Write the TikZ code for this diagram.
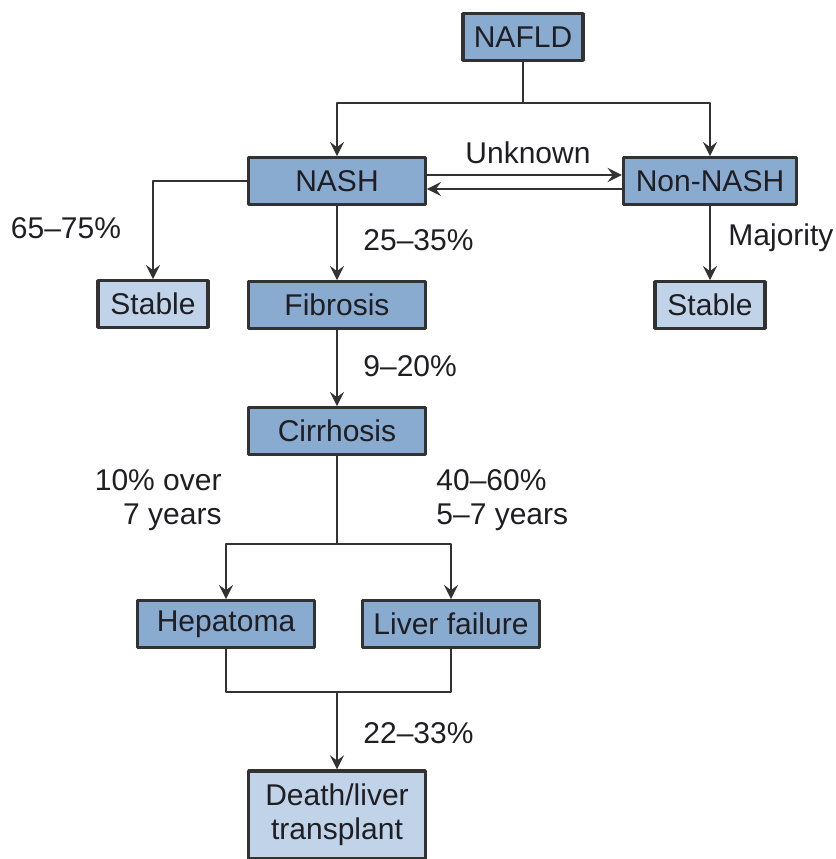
\documentclass[tikz,border=0pt]{standalone}
\usepackage{fontspec}
\setmainfont{Liberation Sans}
\usetikzlibrary{positioning}
\definecolor{boxdark}{RGB}{138,171,208}
\definecolor{boxlight}{RGB}{192,211,232}
\definecolor{lineclr}{RGB}{50,50,50}
\definecolor{txtclr}{RGB}{30,30,35}
\tikzset{
  stage/.style={draw=lineclr, fill=boxdark, line width=0.95pt, inner sep=0pt,
    minimum width=53pt, minimum height=14pt, text=txtclr},
  outcome/.style={stage, fill=boxlight},
  rate/.style={text=txtclr, inner sep=0pt}
}
\begin{document}
\begin{tikzpicture}[x=0.3pt,y=-0.3pt,>=stealth, font=\fontsize{9}{10.2}\selectfont, line join=round, line width=0.85pt]
			\useasboundingbox (0,0) rectangle (835,859);
			% boxes
			\node[stage, minimum width=36pt] (nafld) at (523,37) {NAFLD};
			\node[stage] (nash) at (337,181) {NASH};
			\node[stage, minimum width=52pt] (nonnash) at (710,181) {Non-NASH};
			\node[outcome, minimum width=33pt] (stableL) at (153,304) {Stable};
			\node[stage] (fibrosis) at (337,305) {Fibrosis};
			\node[outcome, minimum width=33pt] (stableR) at (710,305) {Stable};
			\node[stage] (cirrhosis) at (337,431) {Cirrhosis};
			\node[stage] (hepatoma) at (226,624) {Hepatoma};
			\node[stage] (liverfail) at (451,624) {Liver failure};
			\node[outcome, minimum height=26.4pt, align=center] (death) at (337,815) {Death/liver\\transplant};
			% labels
			\node[rate] (unknown) at (528,153) {Unknown};
			\node[rate] (pstable) at (66,228) {65--75\%};
			\node[rate, anchor=west] (pfib) at (362,240) {25--35\%};
			\node[rate, anchor=west] (pmaj) at (727,238) {Majority};
			\node[rate, anchor=west] (pcirr) at (362,366) {9--20\%};
			\node[rate, anchor=east, align=right] (phep) at (223,500) {10\% over\\7 years};
			\node[rate, anchor=west, align=left] (pfail) at (435,500) {40--60\%\\5--7 years};
			\node[rate, anchor=west] (pdeath) at (362,733) {22--33\%};
			% connectors
			\coordinate (split1) at (523,103);
			\coordinate (split2) at (337,544);
			\coordinate (merge) at (337,692);
			\draw[lineclr] (nafld) -- (split1);
			\draw[lineclr,->] (split1) -| (nash);
			\draw[lineclr,->] (split1) -| (nonnash);
			\draw[lineclr,->] ([yshift=1.8pt]nash.east) -- ([yshift=1.8pt]nonnash.west);
			\draw[lineclr,->] ([yshift=-2.4pt]nonnash.west) -- ([yshift=-2.4pt]nash.east);
			\draw[lineclr,->] (nash.west) -| (stableL);
			\draw[lineclr,->] (nash) -- (fibrosis);
			\draw[lineclr,->] (nonnash) -- (stableR);
			\draw[lineclr,->] (fibrosis) -- (cirrhosis);
			\draw[lineclr] (cirrhosis) -- (split2);
			\draw[lineclr,->] (split2) -| (hepatoma);
			\draw[lineclr,->] (split2) -| (liverfail);
			\draw[lineclr] (hepatoma) |- (merge) -| (liverfail);
			\draw[lineclr,->] (merge) -- (death);
\end{tikzpicture}
\end{document}
